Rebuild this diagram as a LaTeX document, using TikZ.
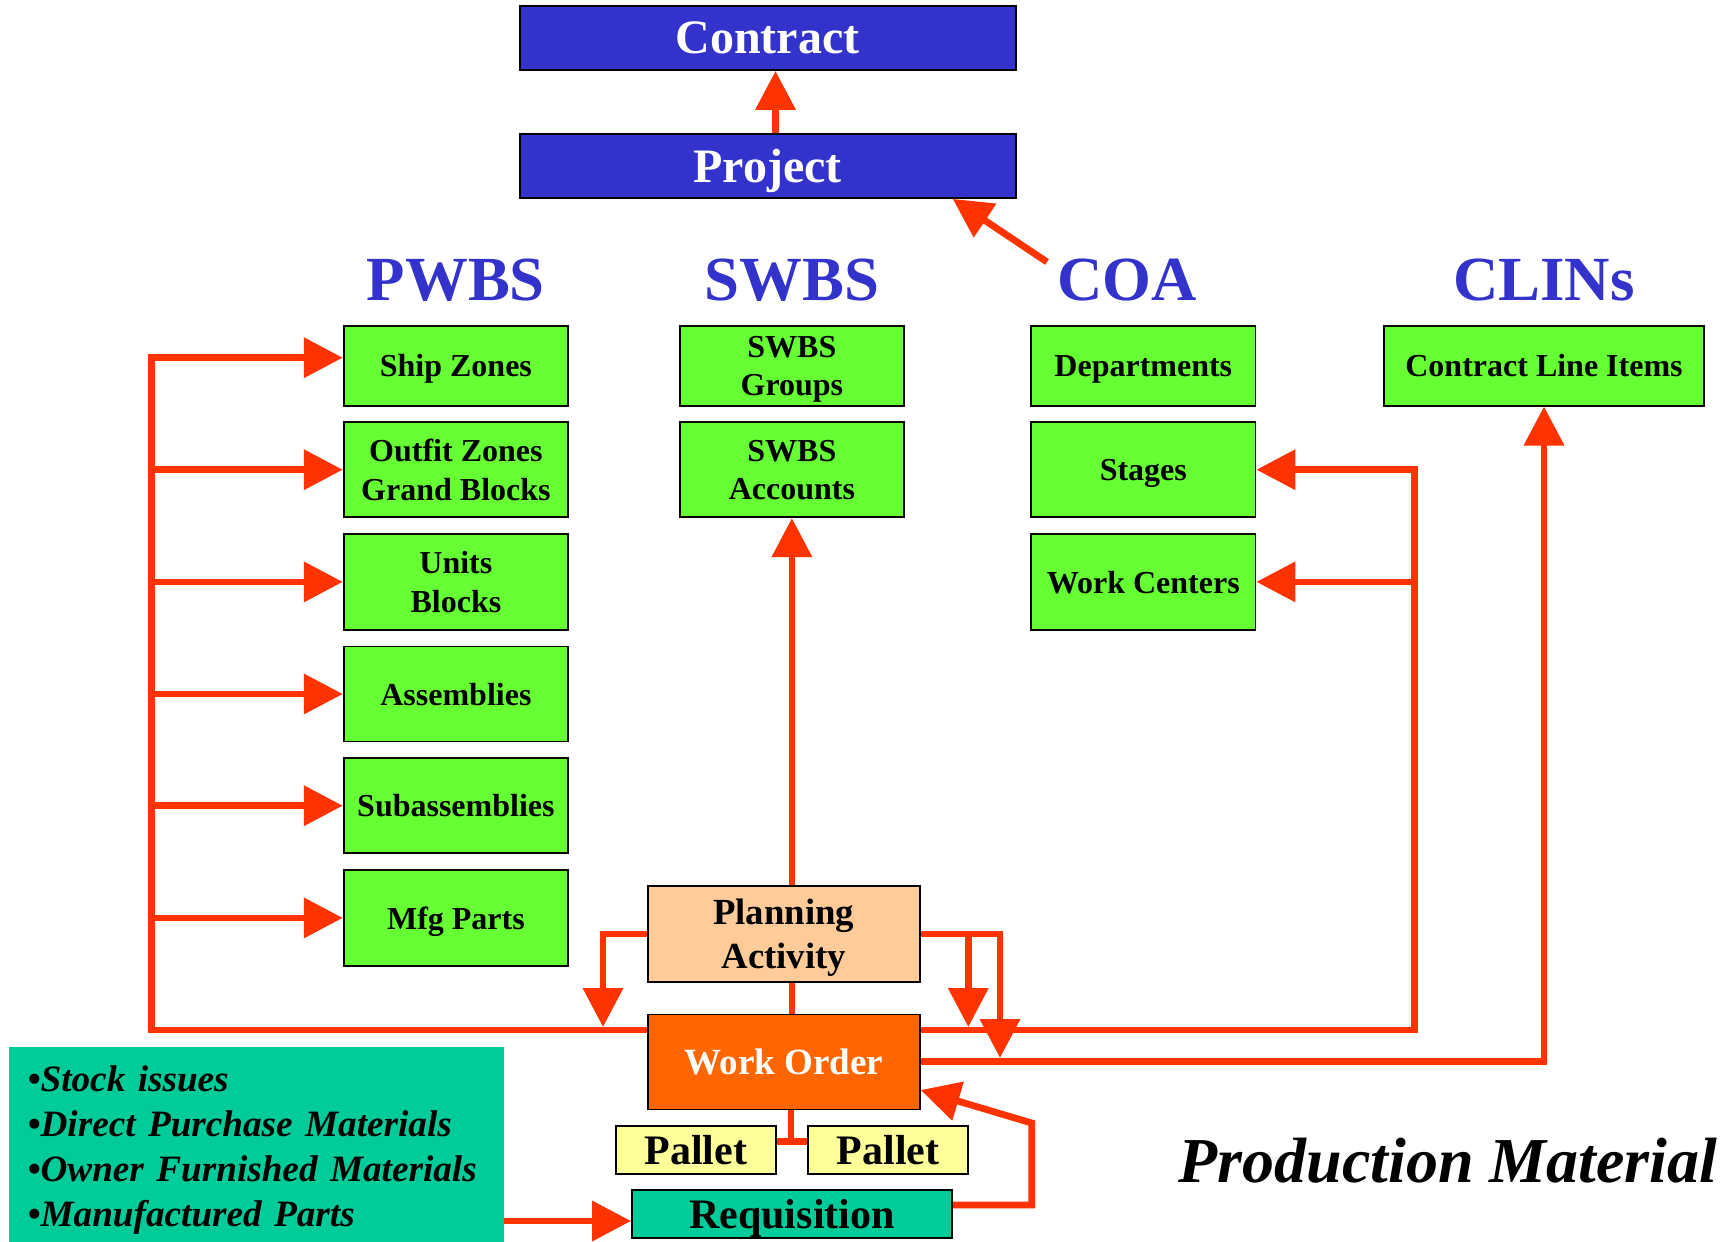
\documentclass[tikz,border=0pt]{standalone}
\usepackage{fontspec}
\setmainfont{Liberation Serif}
\usetikzlibrary{arrows.meta}
\definecolor{cblue}{HTML}{3333CC}
\definecolor{cgreen}{HTML}{66FF33}
\definecolor{cpeach}{HTML}{FFCC99}
\definecolor{corange}{HTML}{FF6600}
\definecolor{cyellow}{HTML}{FFFF99}
\definecolor{cteal}{HTML}{00CC99}
\definecolor{cred}{HTML}{FF3300}
\begin{document}
\begin{tikzpicture}[x=0.5pt,y=-0.5pt,
 box/.style={draw=black, line width=0.9pt, inner sep=0pt, align=center, text depth=-1pt, font=\fontsize{16}{19.2}\selectfont\bfseries},
 gbox/.style={box, fill=cgreen, minimum width=112.2pt},
 bluebox/.style={box, fill=cblue, text=white, minimum width=248pt, minimum height=32pt, font=\fontsize{24}{28}\selectfont\bfseries},
 title/.style={text=cblue, font=\fontsize{31.4}{36}\selectfont\bfseries, inner sep=0pt},
 conn/.style={draw=cred, line width=3.4pt, line join=miter},
 arr/.style={conn, -{Triangle[length=19.5pt,width=19.5pt]}},
]
\useasboundingbox (0,0) rectangle (1733,1241);

% top
\node[bluebox] (contract) at (767.6,38) {Contract};
\node[bluebox] (project) at (767.6,166) {Project};

% titles
\node[title] (pwbs) at (455.9,280) {PWBS};
\node[title] (swbs) at (791.9,280) {SWBS};
\node[title] (coa) at (1127.3,280) {COA};
\node[title] (clins) at (1544,280) {CLINs};

% PWBS column
\node[gbox, minimum height=39.8pt] (ship) at (455.9,365.8) {Ship Zones};
\node[gbox, minimum height=47.5pt] (outfit) at (455.9,469.7) {Outfit Zones\\Grand Blocks};
\node[gbox, minimum height=48pt] (units) at (455.9,581.9) {Units\\Blocks};
\node[gbox, minimum height=47.5pt] (assem) at (455.9,694) {Assemblies};
\node[gbox, minimum height=47.5pt] (subas) at (455.9,805.7) {Subassemblies};
\node[gbox, minimum height=48pt] (mfg) at (455.9,917.9) {Mfg Parts};

% SWBS column
\node[gbox, minimum height=39.8pt] (groups) at (791.9,365.8) {SWBS\\Groups};
\node[gbox, minimum height=47.5pt] (accounts) at (791.9,469.7) {SWBS\\ Accounts};

% COA column
\node[gbox, minimum height=39.8pt] (dept) at (1143.3,365.8) {Departments};
\node[gbox, minimum height=47.5pt] (stages) at (1143.3,469.7) {Stages};
\node[gbox, minimum height=48pt] (wc) at (1143.3,581.9) {Work Centers};

% CLINs
\node[gbox, minimum height=39.8pt, minimum width=160.25pt] (clin) at (1544,365.8) {Contract Line Items};

% bottom
\node[box, fill=cpeach, minimum width=136pt, minimum height=48pt, font=\fontsize{18.4}{22.1}\selectfont\bfseries] (plan) at (783.8,934) {Planning\\Activity};
\node[box, fill=corange, text=white, minimum width=136pt, minimum height=47.5pt, font=\fontsize{18.5}{22}\selectfont\bfseries] (wo) at (783.8,1062) {Work Order};
\node[box, fill=cyellow, minimum width=80.15pt, minimum height=24pt, font=\fontsize{21}{25}\selectfont\bfseries] (p1) at (695.9,1150) {Pallet};
\node[box, fill=cyellow, minimum width=80.3pt, minimum height=24pt, font=\fontsize{21}{25}\selectfont\bfseries] (p2) at (888,1150) {Pallet};
\node[box, fill=cteal, minimum width=160pt, minimum height=23.85pt, font=\fontsize{21}{25}\selectfont\bfseries] (req) at (792,1214) {Requisition};

\node[fill=cteal, minimum width=247.6pt, minimum height=103.8pt, text width=228.8pt, inner xsep=9.4pt, inner ysep=0pt, align=left, font=\fontsize{18.6}{22.5}\selectfont\bfseries\itshape] (tb) at (256.4,1150.4) {•Stock issues\\•Direct Purchase Materials\\•Owner Furnished Materials\\•Manufactured Parts};

\node[font=\fontsize{32}{38}\selectfont\bfseries\itshape, inner sep=0pt] (pm) at (1447.8,1160.5) {Production Material};

% connectors
\coordinate (pc) at (775.5,0);
\draw[arr] (project.north -| pc) -- (contract.south -| pc);

\coordinate (coastart) at (1047,262);
\coordinate (prjtip) at (952.7,198);
\draw[arr] (coastart) -- (project.south -| prjtip);

\coordinate (bus) at (151.4,1030);
\coordinate (shipy) at (0,357.7);
\draw[arr] (wo.west |- bus) -- (bus) -- (bus |- shipy) -- (ship.west |- shipy);
\foreach \n in {outfit,units,assem,subas,mfg}
  \draw[arr] (bus |- \n.west) -- (\n.west);

\coordinate (ld) at (603,1027);
\draw[arr] (plan.west) -| (ld);
\coordinate (rd1) at (968.3,1027);
\coordinate (rd2) at (1000,1058);
\draw[arr] (plan.east) -| (rd2);
\draw[arr] (rd1 |- plan.east) -- (rd1);

\coordinate (rv) at (1414.7,1030);
\draw[arr] (wo.east |- rv) -- (rv) -- (rv |- stages.east) -- (stages.east);
\draw[arr] (rv |- wc.east) -- (wc.east);
\coordinate (cl) at (1544,1061.7);
\draw[arr] (wo.east |- cl) -- (cl) -- (clin.south);

\draw[arr] (accounts.south |- plan.north) -- (accounts.south);
\draw[conn] (accounts.south |- plan.south) -- (accounts.south |- wo.north);

\coordinate (pj) at (791,1141.7);
\draw[conn] (pj |- wo.south) -- (pj);
\draw[conn] (p1.east |- pj) -- (p2.west |- pj);

\coordinate (rq1) at (1031.7,1205);
\coordinate (rq2) at (1031.7,1123);
\coordinate (wotip) at (920,1090);
\draw[arr] (req.east |- rq1) -- (rq1) -- (rq2) -- (wo.east |- wotip);

\coordinate (ta) at (0,1221);
\draw[arr] (tb.east |- ta) -- (req.west |- ta);
\end{tikzpicture}
\end{document}
